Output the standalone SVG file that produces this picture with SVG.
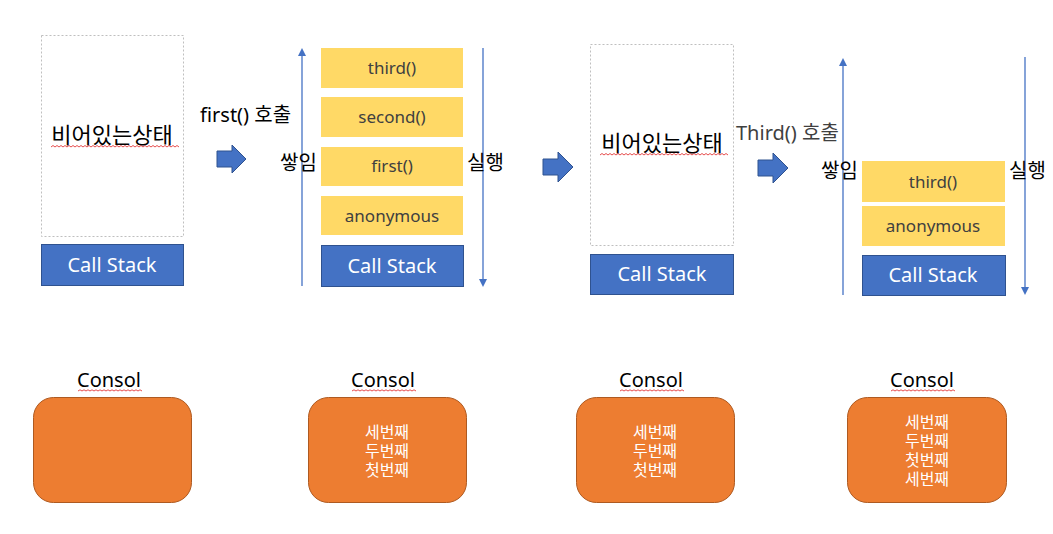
<svg xmlns="http://www.w3.org/2000/svg" width="1053" height="534" viewBox="0 0 1053 534">
<style>
text{font-family:"Noto Sans","Noto Sans CJK KR",sans-serif}
.empty{fill:#fff;stroke:#bfbfbf;stroke-width:1;stroke-dasharray:2 2}
.cs{fill:#4472C4;stroke:#2F528F;stroke-width:1}
.cst{fill:#fff;font-size:20px;text-anchor:middle}
.fr{fill:#FFD966}
.frt{fill:#404040;font-size:17px;text-anchor:middle}
.big{fill:#000;font-size:22px;text-anchor:middle}
.lbl{fill:#000;font-size:20px}
.con{fill:#ED7D31;stroke:#AE5A21;stroke-width:1}
text.cont{fill:#fff;font-size:16px;text-anchor:middle;font-family:"Liberation Sans","Noto Sans CJK KR",sans-serif}
.ct{fill:#000;font-size:20px;text-anchor:middle}
.ln{stroke:#4472C4;stroke-width:1.3;fill:none}
.barrow{fill:#4472C4;stroke:#2F528F;stroke-width:1}
.sq{fill:none;stroke:#e02020;stroke-width:0.8}
</style>
<defs>
<marker id="ah" markerWidth="8" markerHeight="8" refX="4" refY="4" orient="auto" markerUnits="userSpaceOnUse">
<path d="M0,0 L8,4 L0,8 Z" fill="#4472C4"/>
</marker>
</defs>

<g id="connectors">
<line class="ln" x1="302" y1="286" x2="302" y2="52" marker-end="url(#ah)"/>
<line class="ln" x1="483" y1="48" x2="483" y2="283" marker-end="url(#ah)"/>
<line class="ln" x1="843" y1="295" x2="843" y2="62" marker-end="url(#ah)"/>
<line class="ln" x1="1025" y1="57" x2="1025" y2="291" marker-end="url(#ah)"/>
<path class="barrow" d="M217,151 L232,151 L232,145 L246,159 L232,173 L232,167 L217,167 Z"/>
<path class="barrow" d="M543,159 L558,159 L558,152 L573,167 L558,182 L558,175 L543,175 Z"/>
<path class="barrow" d="M758,160 L773,160 L773,153 L788,168 L773,183 L773,176 L758,176 Z"/>
</g>

<g id="panel1">
<rect class="empty" x="41.5" y="35.5" width="142" height="201"/>
<text class="big" x="112" y="143">비어있는상태</text>
<path class="sq" d="M51,147 l2,-1.5 l2,1.5 l2,-1.5 l2,1.5 l2,-1.5 l2,1.5 l2,-1.5 l2,1.5 l2,-1.5 l2,1.5 l2,-1.5 l2,1.5 l2,-1.5 l2,1.5 l2,-1.5 l2,1.5 l2,-1.5 l2,1.5 l2,-1.5 l2,1.5 l2,-1.5 l2,1.5 l2,-1.5 l2,1.5 l2,-1.5 l2,1.5 l2,-1.5 l2,1.5 l2,-1.5 l2,1.5 l2,-1.5 l2,1.5 l2,-1.5 l2,1.5 l2,-1.5 l2,1.5 l2,-1.5 l2,1.5 l2,-1.5 l2,1.5 l2,-1.5 l2,1.5 l2,-1.5 l2,1.5 l2,-1.5 l2,1.5 l2,-1.5 l2,1.5 l2,-1.5 l2,1.5 l2,-1.5 l2,1.5 l2,-1.5 l2,1.5 l2,-1.5 l2,1.5 l2,-1.5 l2,1.5 l2,-1.5 l2,1.5 l2,-1.5 l2,1.5 l2,-1.5 l2,1.5"/>
<rect class="cs" x="41.5" y="244.5" width="142" height="41"/>
<text class="cst" x="112" y="272">Call Stack</text>
</g>

<g id="label-first-call">
<text class="lbl" x="200" y="122">first() 호출</text>
</g>

<g id="panel2">
<text class="lbl" x="280" y="170">쌓임</text>
<rect class="fr" x="321" y="48" width="142" height="40"/>
<text class="frt" x="392" y="74">third()</text>
<rect class="fr" x="321" y="97" width="142" height="40"/>
<text class="frt" x="392" y="123">second()</text>
<rect class="fr" x="321" y="147" width="142" height="39"/>
<text class="frt" x="392" y="172">first()</text>
<rect class="fr" x="321" y="196" width="142" height="39"/>
<text class="frt" x="392" y="222">anonymous</text>
<rect class="cs" x="321.5" y="245.5" width="142" height="41"/>
<text class="cst" x="392" y="273">Call Stack</text>
<text class="lbl" x="467" y="170">실행</text>
</g>

<g id="panel3">
<rect class="empty" x="590.5" y="44.5" width="143" height="201"/>
<text class="big" x="662" y="151">비어있는상태</text>
<path class="sq" d="M600,155 l2,-1.5 l2,1.5 l2,-1.5 l2,1.5 l2,-1.5 l2,1.5 l2,-1.5 l2,1.5 l2,-1.5 l2,1.5 l2,-1.5 l2,1.5 l2,-1.5 l2,1.5 l2,-1.5 l2,1.5 l2,-1.5 l2,1.5 l2,-1.5 l2,1.5 l2,-1.5 l2,1.5 l2,-1.5 l2,1.5 l2,-1.5 l2,1.5 l2,-1.5 l2,1.5 l2,-1.5 l2,1.5 l2,-1.5 l2,1.5 l2,-1.5 l2,1.5 l2,-1.5 l2,1.5 l2,-1.5 l2,1.5 l2,-1.5 l2,1.5 l2,-1.5 l2,1.5 l2,-1.5 l2,1.5 l2,-1.5 l2,1.5 l2,-1.5 l2,1.5 l2,-1.5 l2,1.5 l2,-1.5 l2,1.5 l2,-1.5 l2,1.5 l2,-1.5 l2,1.5 l2,-1.5 l2,1.5 l2,-1.5 l2,1.5 l2,-1.5 l2,1.5 l2,-1.5 l2,1.5"/>
<rect class="cs" x="590.5" y="254.5" width="143" height="40"/>
<text class="cst" x="662" y="281">Call Stack</text>
</g>

<g id="label-third-call">
<text class="lbl" x="736" y="140" style="fill:#404040">Third() 호출</text>
</g>

<g id="panel4">
<text class="lbl" x="821" y="178">쌓임</text>
<rect class="fr" x="862" y="161" width="143" height="41"/>
<text class="frt" x="933" y="188">third()</text>
<rect class="fr" x="862" y="206" width="143" height="40"/>
<text class="frt" x="933" y="232">anonymous</text>
<rect class="cs" x="862.5" y="255.5" width="143" height="40"/>
<text class="cst" x="933" y="282">Call Stack</text>
<text class="lbl" x="1009" y="178">실행</text>
</g>

<g id="console1">
<text class="ct" x="109" y="387">Consol</text>
<path class="sq" d="M78,391 l2,-1.2 l2,1.2 l2,-1.2 l2,1.2 l2,-1.2 l2,1.2 l2,-1.2 l2,1.2 l2,-1.2 l2,1.2 l2,-1.2 l2,1.2 l2,-1.2 l2,1.2 l2,-1.2 l2,1.2 l2,-1.2 l2,1.2 l2,-1.2 l2,1.2 l2,-1.2 l2,1.2 l2,-1.2 l2,1.2 l2,-1.2 l2,1.2 l2,-1.2 l2,1.2 l2,-1.2 l2,1.2 l2,-1.2 l2,1.2"/>
<rect class="con" x="33.5" y="397.5" width="158" height="105" rx="20"/>
</g>

<g id="console2">
<text class="ct" x="383" y="387">Consol</text>
<path class="sq" d="M352,391 l2,-1.2 l2,1.2 l2,-1.2 l2,1.2 l2,-1.2 l2,1.2 l2,-1.2 l2,1.2 l2,-1.2 l2,1.2 l2,-1.2 l2,1.2 l2,-1.2 l2,1.2 l2,-1.2 l2,1.2 l2,-1.2 l2,1.2 l2,-1.2 l2,1.2 l2,-1.2 l2,1.2 l2,-1.2 l2,1.2 l2,-1.2 l2,1.2 l2,-1.2 l2,1.2 l2,-1.2 l2,1.2 l2,-1.2 l2,1.2"/>
<rect class="con" x="308.5" y="397.5" width="158" height="105" rx="20"/>
<text class="cont"><tspan x="387" y="438">세번째</tspan><tspan x="387" y="457">두번째</tspan><tspan x="387" y="476">첫번째</tspan></text>
</g>

<g id="console3">
<text class="ct" x="651" y="387">Consol</text>
<path class="sq" d="M620,391 l2,-1.2 l2,1.2 l2,-1.2 l2,1.2 l2,-1.2 l2,1.2 l2,-1.2 l2,1.2 l2,-1.2 l2,1.2 l2,-1.2 l2,1.2 l2,-1.2 l2,1.2 l2,-1.2 l2,1.2 l2,-1.2 l2,1.2 l2,-1.2 l2,1.2 l2,-1.2 l2,1.2 l2,-1.2 l2,1.2 l2,-1.2 l2,1.2 l2,-1.2 l2,1.2 l2,-1.2 l2,1.2 l2,-1.2 l2,1.2"/>
<rect class="con" x="576.5" y="397.5" width="158" height="105" rx="20"/>
<text class="cont"><tspan x="655" y="438">세번째</tspan><tspan x="655" y="457">두번째</tspan><tspan x="655" y="476">첫번째</tspan></text>
</g>

<g id="console4">
<text class="ct" x="922" y="387">Consol</text>
<path class="sq" d="M891,391 l2,-1.2 l2,1.2 l2,-1.2 l2,1.2 l2,-1.2 l2,1.2 l2,-1.2 l2,1.2 l2,-1.2 l2,1.2 l2,-1.2 l2,1.2 l2,-1.2 l2,1.2 l2,-1.2 l2,1.2 l2,-1.2 l2,1.2 l2,-1.2 l2,1.2 l2,-1.2 l2,1.2 l2,-1.2 l2,1.2 l2,-1.2 l2,1.2 l2,-1.2 l2,1.2 l2,-1.2 l2,1.2 l2,-1.2 l2,1.2"/>
<rect class="con" x="847.5" y="397.5" width="159" height="105" rx="20"/>
<text class="cont"><tspan x="927" y="428">세번째</tspan><tspan x="927" y="447">두번째</tspan><tspan x="927" y="466">첫번째</tspan><tspan x="927" y="485">세번째</tspan></text>
</g>
</svg>
